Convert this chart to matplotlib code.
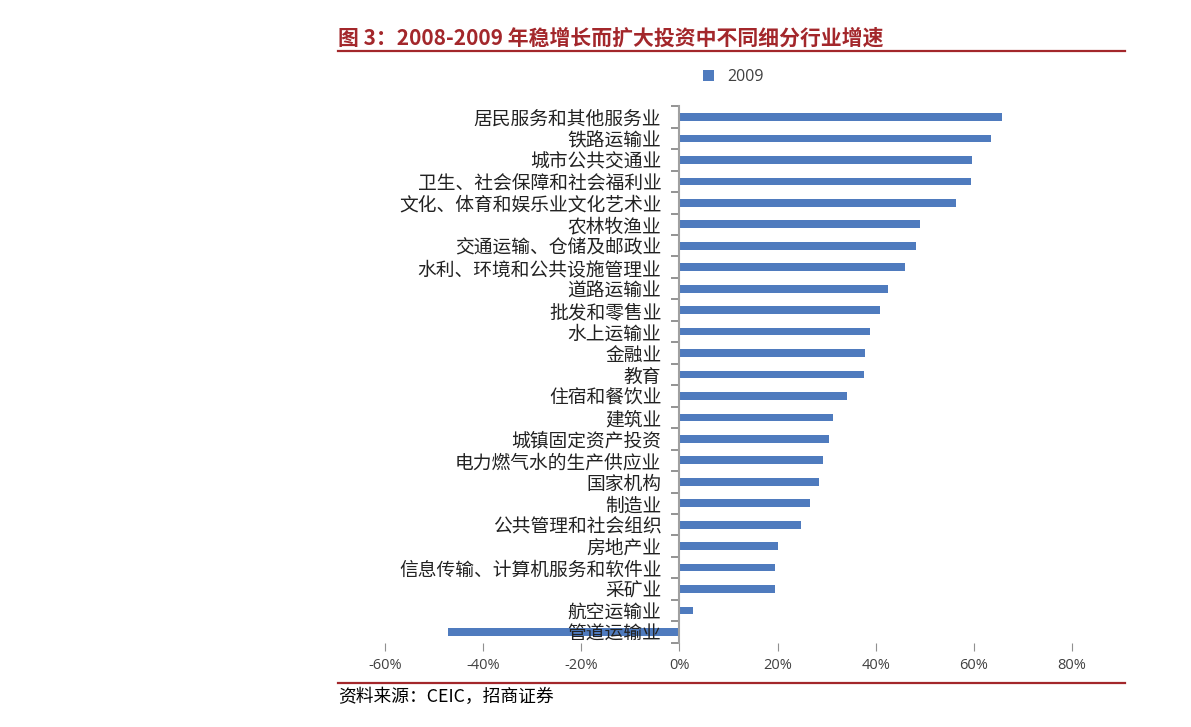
import numpy as np
import matplotlib
matplotlib.use("Agg")
import matplotlib.pyplot as plt
from matplotlib.lines import Line2D

plt.rcParams['font.family'] = ['Noto Sans CJK SC', 'DejaVu Sans']

### data (2009 growth, %)
industries = ['居民服务和其他服务业', '铁路运输业', '城市公共交通业', '卫生、社会保障和社会福利业',
              '文化、体育和娱乐业文化艺术业', '农林牧渔业', '交通运输、仓储及邮政业',
              '水利、环境和公共设施管理业', '道路运输业', '批发和零售业', '水上运输业', '金融业',
              '教育', '住宿和餐饮业', '建筑业', '城镇固定资产投资', '电力燃气水的生产供应业',
              '国家机构', '制造业', '公共管理和社会组织', '房地产业', '信息传输、计算机服务和软件业',
              '采矿业', '航空运输业', '管道运输业']
growth_2009 = [65.8, 63.5, 59.7, 59.5, 56.4, 49.1, 48.3, 45.9, 42.5, 40.8, 38.8, 37.9,
               37.7, 34.2, 31.3, 30.5, 29.2, 28.4, 26.7, 24.7, 20.1, 19.5, 19.5, 2.7, -47.2]
x_ticks = [-60, -40, -20, 0, 20, 40, 60, 80]

title = '图 3：2008-2009 年稳增长而扩大投资中不同细分行业增速'
source = '资料来源：CEIC，招商证券'

W, H = 1191, 727
fig = plt.figure(figsize=(W / 100, H / 100), dpi=100)
ax = fig.add_axes([385 / W, 1 - 642.7 / H, 687 / W, 536.4 / H])

y = np.arange(len(industries))
ax.barh(y, growth_2009, height=0.36, color='#4F7BBE', label='2009', zorder=1)

ax.set_xlim(-60, 80)
ax.set_ylim(len(industries) - 0.5, -0.5)

ax.set_xticks(x_ticks)
ax.set_xticklabels([f'{t}%' for t in x_ticks])
ax.tick_params(axis='x', length=6, color='#909090', pad=5, labelsize=10.5,
               labelcolor='#404040', labelfontfamily='Open Sans')

ax.set_yticks(y)
ax.set_yticklabels(industries)
ax.set_yticks(np.arange(len(industries) + 1) - 0.5, minor=True)
ax.tick_params(axis='y', which='major', length=0, pad=13, labelsize=13.5, labelcolor='#222222')
ax.tick_params(axis='y', which='minor', length=6, color='#808080', width=1.2)

for s in ['top', 'right', 'bottom']:
    ax.spines[s].set_visible(False)
ax.spines['left'].set_position(('data', 0))
ax.spines['left'].set_color('#a0a0a0')
ax.spines['left'].set_linewidth(1.5)

ax.legend(loc='center', bbox_to_anchor=(0.507, 1.055), frameon=False,
          handlelength=0.7, handleheight=0.7, labelcolor='#404040',
          prop={'family': ['Open Sans', 'DejaVu Sans'], 'size': 11.5})

# title, source and red rules
red = '#A3272B'
fig.text(338 / W, 1 - 38 / H, title, fontsize=15, fontweight='bold', color=red,
         ha='left', va='center')
fig.add_artist(Line2D([338 / W, 1125 / W], [1 - 51 / H, 1 - 51 / H], color=red, lw=1.6))
fig.add_artist(Line2D([338 / W, 1125 / W], [1 - 683 / H, 1 - 683 / H], color=red, lw=1.6))
fig.text(338 / W, 1 - 697 / H, source, fontsize=12.8, color='black', ha='left', va='center')

fig.savefig('out.png', dpi=100)
